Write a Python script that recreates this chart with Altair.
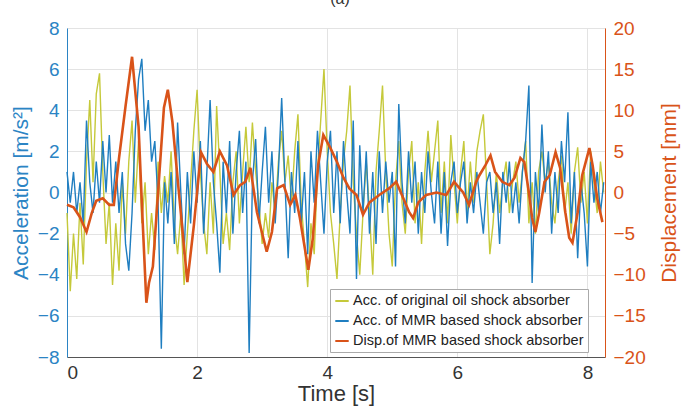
import altair as alt
import pandas as pd

dt = 0.05
acc_oil = [-1.0, -4.8, -2.0, -4.2, -0.5, -3.5, 1.5, 4.5, 0.5, 4.8,
           5.8, 1.0, -2.5, -0.5, -4.5, -1.5, -3.8, 0.5, -2.0, 1.5,
           3.5, -0.5, 2.5, -1.5, 0.5, -3.0, -1.0, -2.8, 1.5, -1.0,
           0.8, -0.5, 2.0, -1.5, -3.0, -1.0, -4.5, -2.0, 0.5, 3.0,
           5.0, 1.0, -1.5, -3.0, 0.5, -2.0, 4.2, 1.0, -2.5, -1.0,
           -2.8, 0.5, 2.0, -1.5, 1.0, 3.2, 0.5, 3.4, 1.0, -0.5,
           -2.5, -1.0, -2.2, 0.5, -1.0, 1.5, 3.0, 0.5, 1.8, -0.5,
           2.0, 3.8, -0.5, -2.5, -4.6, -1.5, -3.0, 1.0, 3.5, 6.0,
           2.0, -1.0, -2.5, -4.2, -1.0, 1.5, 3.0, 5.2, 0.5, -2.0,
           -4.0, -1.0, 1.5, -1.0, -4.0, 1.0, 3.0, 5.2, 1.0, -2.0,
           -3.6, 0.5, 2.5, -0.5, -2.0, 1.0, 2.5, -1.5, 0.5, -2.5,
           1.0, 3.0, 0.5, 2.0, 3.5, -1.0, 1.5, -1.5, 2.8, 0.5,
           -1.5, 1.0, 2.5, -1.0, 1.5, -0.5, 2.0, 3.0, 3.8, 0.5,
           -3.0, -1.5, 1.0, -1.0, 0.5, 1.5, -1.0, 0.5, 1.5, -0.5,
           1.0, 2.5, -1.5, 0.5, -2.0, 1.0, 2.0, 0.5, 1.5, -0.5,
           -1.5, 0.5, 1.8, -1.0, 0.5, -2.0, 1.0, 2.2, -0.5, 1.0,
           -1.5, 2.0, 0.5, -1.0, 1.5, 0.0]
acc_mmr = [1.0, -0.5, 1.0, -1.0, 0.5, -1.5, 3.5, 0.5, -1.0, 1.5,
           -0.5, 2.5, 0.0, 2.8, -0.5, 1.5, -1.0, 1.0, -2.5, -3.8,
           -1.0, 3.0, 5.5, 6.5, 3.0, 4.5, 1.5, 2.5, -0.5, -7.6,
           0.5, -1.5, 1.0, -2.5, 3.4, 0.0, -3.0, 1.0, -1.5, 2.0,
           -0.5, 2.5, -2.0, 1.0, 4.5, 0.5, -1.5, -3.9, 1.5, -1.0,
           2.5, -2.0, 1.0, 3.0, -1.0, 1.5, -7.8, 0.5, 2.6, -1.5,
           1.0, 3.2, -0.5, 2.0, -1.5, 1.0, 4.6, 0.5, -3.2, 1.0,
           -1.0, 2.5, -1.5, 1.0, -3.0, 2.0, -0.5, 3.0, 0.5, -2.0,
           1.5, 3.0, -1.0, 2.0, -1.5, 2.5, 0.0, -2.0, 3.5, -4.2,
           2.3, -1.0, 2.0, -2.0, 1.0, -2.5, 2.0, -1.0, 1.5, -0.5,
           1.0, -3.6, 4.3, 0.5, -1.5, 2.0, -0.5, 1.5, -2.0, 1.0,
           -1.0, 2.0, 0.0, -1.5, 1.5, -2.0, 1.0, -2.6, 0.5, 1.5,
           -1.0, 0.5, 1.5, -1.5, 0.5, -1.0, 1.0, -0.5, -2.0, 0.5,
           1.0, -1.0, 0.5, -2.5, 1.0, -0.5, 1.5, -1.0, 0.5, -1.5,
           1.0, 2.5, 5.2, -4.4, 1.0, -1.0, 3.3, 0.0, 2.0, -2.0,
           1.0, -1.0, 2.5, 0.5, 3.9, -1.5, 1.0, -3.2, 0.5, -1.0,
           -3.6, 1.5, -0.5, 1.0, -1.0, 0.5]

disp_t = [0.0, 0.1, 0.2, 0.3, 0.38, 0.45, 0.55, 0.65, 0.72, 0.8, 0.9, 1.0, 1.1, 1.16,
          1.22, 1.26, 1.32, 1.4, 1.49, 1.55, 1.62, 1.72, 1.85, 1.95, 2.06, 2.15, 2.25,
          2.35, 2.46, 2.56, 2.66, 2.74, 2.82, 2.92, 3.07, 3.15, 3.23, 3.33, 3.43, 3.51,
          3.58, 3.71, 3.78, 3.86, 3.94, 4.05, 4.15, 4.25, 4.34, 4.45, 4.55, 4.65, 4.8,
          4.95, 5.06, 5.17, 5.26, 5.32, 5.40, 5.52, 5.68, 5.83, 5.95, 6.09, 6.18, 6.29,
          6.34, 6.43, 6.51, 6.58, 6.69, 6.8, 6.88, 6.97, 7.03, 7.1, 7.15, 7.2, 7.26,
          7.34, 7.42, 7.51, 7.58, 7.66, 7.72, 7.77, 7.85, 7.92, 8.03, 8.08, 8.15, 8.23]
disp_mm = [-1.5, -1.8, -3.0, -4.8, -2.5, -1.0, -0.7, -1.5, -1.5, 4.2, 10.5, 16.5, 8.0, -3.0,
           -13.4, -11.0, -9.0, 0.0, 10.3, 12.5, 8.6, 0.0, -10.9, -4.0, 4.9, 3.5, 2.5,
           5.0, 3.3, -0.3, 0.9, 1.3, 3.0, -2.4, -7.2, -4.8, 0.5, 0.9, -1.5, -0.3,
           -3.1, -9.4, -5.5, 3.3, 7.0, 5.4, 3.7, 1.8, 0.5, -0.3, -2.7, -1.2, -0.3,
           0.5, 1.3, -0.7, -2.4, -3.1, -1.2, -0.3, 0.0, -0.3, 1.3, 0.0, -1.5, 1.3,
           2.1, 3.3, 4.5, 2.5, 1.3, 0.9, 1.8, 4.2, 3.7, 0.0, -3.1, -4.8, -2.4,
           1.3, 2.1, 4.9, 3.0, -2.4, -5.5, -6.1, -2.4, 2.1, 5.4, 3.3, -0.7, -3.6]

names = ["Acc. of original oil shock absorber",
         "Acc. of MMR based shock absorber",
         "Disp.of MMR based shock absorber"]
colors = ["#c5c93a", "#1f7ec0", "#d95319"]

t_acc = [round(i * dt, 2) for i in range(len(acc_oil))]
df_oil = pd.DataFrame({"t": t_acc, "v": acc_oil, "s": names[0]})
df_mmr = pd.DataFrame({"t": t_acc, "v": acc_mmr, "s": names[1]})
df_disp = pd.DataFrame({"t": disp_t, "v": disp_mm, "s": names[2]})

FONT = "Liberation Sans"
xsc = alt.Scale(domain=[0, 8.27], nice=False)
color = alt.Color("s:N", scale=alt.Scale(domain=names, range=colors),
                  legend=alt.Legend(title=None, orient="none", legendX=263, legendY=261,
                                    symbolType="stroke", symbolSize=180, symbolStrokeWidth=2,
                                    labelFontSize=14.5, labelFont=FONT, labelColor="#222",
                                    fillColor="white", strokeColor="#aaa", padding=4,
                                    rowPadding=5, labelOffset=3, labelLimit=400))

xaxis = alt.Axis(values=[0, 2, 4, 6, 8], format="d", title="Time [s]", titleFontSize=22,
                 labelFontSize=19, titleFont=FONT, labelFont=FONT, labelColor="#333",
                 titleColor="#333", titleFontWeight="normal", ticks=False, gridColor="#e3e3e3",
                 domainColor="#555", titlePadding=1, labelPadding=6)

left_axis = alt.Axis(values=list(range(-8, 9, 2)), format="d", title="Acceleration [m/s²]",
                     titleFontSize=21, labelFontSize=19, titleFont=FONT, labelFont=FONT,
                     labelColor="#2b84c4", titleColor="#2b84c4", titleFontWeight="normal",
                     ticks=False, gridColor="#e3e3e3", domainColor="#2b84c4", labelPadding=8,
                     titlePadding=6)
right_axis = alt.Axis(values=list(range(-20, 21, 5)), format="d", title="Displacement [mm]",
                      orient="right", titleFontSize=21, labelFontSize=19, titleFont=FONT,
                      labelFont=FONT, labelColor="#d95319", titleColor="#d95319",
                      titleFontWeight="normal", titleAngle=270, titleBaseline="bottom",
                      ticks=False, grid=False, domainColor="#d95319", labelPadding=8,
                      titlePadding=34)

yacc = alt.Scale(domain=[-8, 8], nice=False)
l_oil = alt.Chart(df_oil).mark_line(strokeWidth=1.4).encode(
    x=alt.X("t:Q", scale=xsc, axis=xaxis),
    y=alt.Y("v:Q", scale=yacc, axis=left_axis),
    color=color)
l_mmr = alt.Chart(df_mmr).mark_line(strokeWidth=1.4).encode(
    x=alt.X("t:Q", scale=xsc),
    y=alt.Y("v:Q", scale=yacc),
    color=color)
acc = alt.layer(l_oil, l_mmr)

disp = alt.Chart(df_disp).mark_line(strokeWidth=2.6).encode(
    x=alt.X("t:Q", scale=xsc),
    y=alt.Y("v:Q", scale=alt.Scale(domain=[-20, 20], nice=False), axis=right_axis),
    color=color)

title_txt = alt.Chart(pd.DataFrame({"a": ["(a)"]})).mark_text(
    fontSize=16, font=FONT, color="#333", baseline="bottom").encode(
    text="a:N", x=alt.value(273), y=alt.value(-21))

chart = alt.layer(acc, disp, title_txt).resolve_scale(y="independent").properties(
    width=538, height=329,
    autosize=alt.AutoSizeParams(type="none"),
    padding={"left": 67, "top": 28, "right": 77, "bottom": 59},
).configure_view(stroke="#999", strokeWidth=1).configure(background="white")

chart.save("out.html", embed_options={"renderer": "svg", "actions": False})
